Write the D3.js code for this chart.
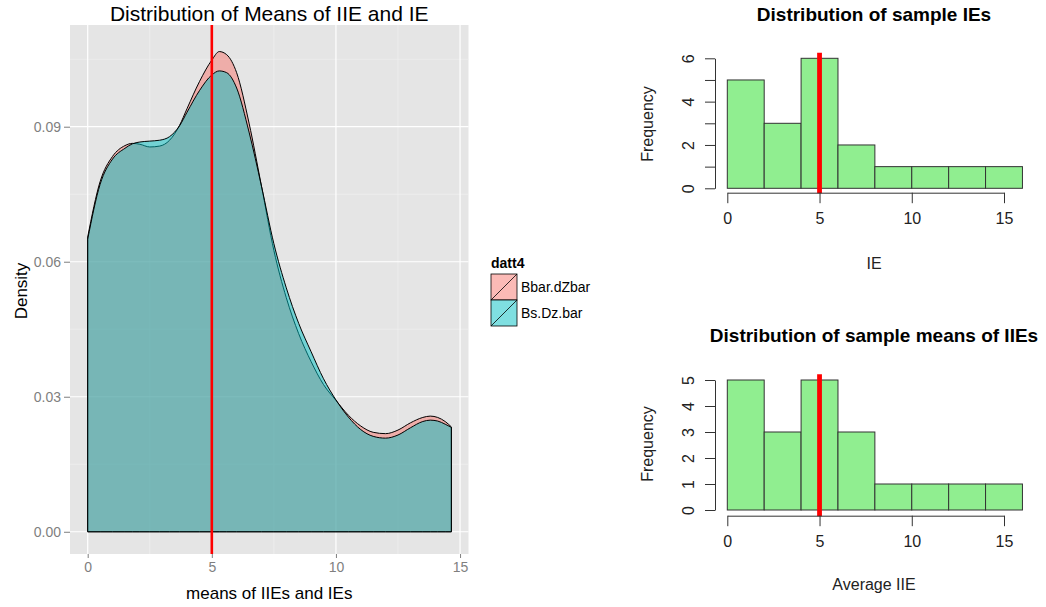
<!DOCTYPE html>
<html>
<head>
<meta charset="utf-8">
<script src="https://cdn.jsdelivr.net/npm/d3@7/dist/d3.min.js"></script>
<style>
  html, body { margin: 0; padding: 0; background: #fff; }
  svg { display: block; font-family: "Liberation Sans", Arial, sans-serif; }
</style>
</head>
<body>
<svg id="chart" width="1046" height="607"></svg>
<script>
// ---- density estimates of the two sets of means ----
const densX = [0, 0.5, 1, 1.5, 1.8, 2.1, 2.5, 2.9, 3.3, 3.7, 4, 4.5, 5, 5.3, 5.6, 6, 6.5, 7, 7.5, 8, 8.5, 9, 9.5, 10, 10.5, 11, 11.5, 12, 12.5, 13, 13.5, 13.8, 14.1, 14.4, 14.65];
const densBbar = [0.0655, 0.0778, 0.0834, 0.0858, 0.0863, 0.0861, 0.0855, 0.0857, 0.0870, 0.0903, 0.0940, 0.1000, 0.1048, 0.1067, 0.1060, 0.1020, 0.0908, 0.0768, 0.0625, 0.0520, 0.0440, 0.0378, 0.0327, 0.0292, 0.0259, 0.0235, 0.0221, 0.0218, 0.0226, 0.0242, 0.0254, 0.0257, 0.0254, 0.0245, 0.0233];
const densBs = [0.0650, 0.0772, 0.0828, 0.0852, 0.0862, 0.0866, 0.0868, 0.0870, 0.0878, 0.0902, 0.0932, 0.0980, 0.1015, 0.1024, 0.1020, 0.0986, 0.0888, 0.0768, 0.0640, 0.0542, 0.0463, 0.0400, 0.0340, 0.0293, 0.0255, 0.0227, 0.0212, 0.0208, 0.0215, 0.0231, 0.0245, 0.0248, 0.0246, 0.0239, 0.0232];
const seriesNames = ["Bbar.dZbar", "Bs.Dz.bar"];
const seriesColors = ["#F8766D", "#00BFC4"];
const densTicksX = [0, 5, 10, 15];
const densTicksY = [0, 0.03, 0.06, 0.09];
const meanLine = 5;

// ---- histograms ----
const histBreaks = [0, 2, 4, 6, 8, 10, 12, 14, 16];
const ieCounts = [5, 3, 6, 2, 1, 1, 1, 1];
const iieCounts = [5, 3, 5, 3, 1, 1, 1, 1];
const histTicksX = [0, 5, 10, 15];

const svg = d3.select("#chart");

// ================= left: overlaid densities =================
const P = { left: 70, right: 468.5, top: 25, bottom: 554 };
const x = d3.scaleLinear().domain([-0.713, 15.34]).range([P.left, P.right]);
const y = d3.scaleLinear().domain([-0.00494, 0.1126]).range([P.bottom, P.top]);

svg.append("rect").attr("x", P.left).attr("y", P.top)
  .attr("width", P.right - P.left).attr("height", P.bottom - P.top)
  .attr("fill", "#E5E5E5");

const grid = svg.append("g");
// minor grid
const minorX = [2.5, 7.5, 12.5];
const minorY = [0.015, 0.045, 0.075, 0.105];
grid.selectAll(".mx").data(minorX).join("line")
  .attr("x1", d => x(d)).attr("x2", d => x(d)).attr("y1", P.top).attr("y2", P.bottom)
  .attr("stroke", "#F2F2F2").attr("stroke-width", 0.6);
grid.selectAll(".my").data(minorY).join("line")
  .attr("y1", d => y(d)).attr("y2", d => y(d)).attr("x1", P.left).attr("x2", P.right)
  .attr("stroke", "#F2F2F2").attr("stroke-width", 0.6);
// major grid
grid.selectAll(".gx").data(densTicksX).join("line")
  .attr("x1", d => x(d)).attr("x2", d => x(d)).attr("y1", P.top).attr("y2", P.bottom)
  .attr("stroke", "#FFFFFF").attr("stroke-width", 1.2);
grid.selectAll(".gy").data(densTicksY).join("line")
  .attr("y1", d => y(d)).attr("y2", d => y(d)).attr("x1", P.left).attr("x2", P.right)
  .attr("stroke", "#FFFFFF").attr("stroke-width", 1.2);

const area = d3.area()
  .x(d => x(d[0])).y0(y(0)).y1(d => y(d[1]))
  .curve(d3.curveMonotoneX);

[densBbar, densBs].forEach((vals, i) => {
  svg.append("path")
    .datum(densX.map((v, k) => [v, vals[k]]))
    .attr("d", area)
    .attr("fill", seriesColors[i]).attr("fill-opacity", 0.5)
    .attr("stroke", "#000").attr("stroke-width", 1)
    .attr("stroke-linejoin", "round");
});

svg.append("line")
  .attr("x1", x(meanLine)).attr("x2", x(meanLine))
  .attr("y1", P.top).attr("y2", P.bottom)
  .attr("stroke", "#FF0000").attr("stroke-width", 2.6);

// axes
const ax = svg.append("g").attr("transform", `translate(0,${P.bottom})`)
  .call(d3.axisBottom(x).tickValues(densTicksX).tickFormat(d3.format("d"))
    .tickSize(4).tickSizeOuter(0).tickPadding(4));
ax.select(".domain").remove();
ax.selectAll("line").attr("stroke", "#7F7F7F");
ax.selectAll("text").attr("fill", "#7F7F7F").style("font-size", "14px");

const ay = svg.append("g").attr("transform", `translate(${P.left},0)`)
  .call(d3.axisLeft(y).tickValues(densTicksY).tickFormat(d3.format(".2f"))
    .tickSize(6).tickSizeOuter(0).tickPadding(3));
ay.select(".domain").remove();
ay.selectAll("line").attr("stroke", "#7F7F7F");
ay.selectAll("text").attr("fill", "#7F7F7F").style("font-size", "14px");

svg.append("text").attr("x", (P.left + P.right) / 2).attr("y", 21)
  .attr("text-anchor", "middle").style("font-size", "21px")
  .text("Distribution of Means of IIE and IE");
svg.append("text").attr("x", (P.left + P.right) / 2).attr("y", 599)
  .attr("text-anchor", "middle").style("font-size", "17px")
  .text("means of IIEs and IEs");
svg.append("text").attr("transform", "translate(27,291) rotate(-90)")
  .attr("text-anchor", "middle").style("font-size", "17px")
  .text("Density");

// legend
const lg = svg.append("g");
lg.append("text").attr("x", 491).attr("y", 268)
  .style("font-size", "14px").style("font-weight", "bold").text("datt4");
seriesNames.forEach((name, i) => {
  const ky = 274 + i * 26;
  lg.append("rect").attr("x", 491).attr("y", ky).attr("width", 26).attr("height", 26)
    .attr("fill", "#fff");
  lg.append("rect").attr("x", 491).attr("y", ky).attr("width", 26).attr("height", 26)
    .attr("fill", seriesColors[i]).attr("fill-opacity", 0.5)
    .attr("stroke", "#000").attr("stroke-width", 0.8);
  lg.append("line").attr("x1", 491).attr("y1", ky + 26).attr("x2", 517).attr("y2", ky)
    .attr("stroke", "#000").attr("stroke-width", 0.8);
  lg.append("text").attr("x", 521).attr("y", ky + 18)
    .style("font-size", "14px").text(name);
});

// ================= right: histograms =================
function histogram(counts, cfg) {
  const hx = d3.scaleLinear().domain([0, 15]).range([727.3, 1004]);
  const hy = d3.scaleLinear().domain([0, cfg.ymax]).range([cfg.y0, cfg.ytop]);
  const g = svg.append("g");
  const bins = counts.map((c, i) => ({ x0: histBreaks[i], x1: histBreaks[i + 1], c }));
  g.selectAll("rect").data(bins).join("rect")
    .attr("x", d => hx(d.x0)).attr("width", d => hx(d.x1) - hx(d.x0))
    .attr("y", d => hy(d.c)).attr("height", d => hy(0) - hy(d.c))
    .attr("fill", "#90EE90").attr("stroke", "#333").attr("stroke-width", 1);

  g.append("line").attr("x1", hx(meanLine)).attr("x2", hx(meanLine))
    .attr("y1", cfg.lineTop).attr("y2", cfg.axisY + 0.6)
    .attr("stroke", "#FF0000").attr("stroke-width", 4.8);

  const gx = g.append("g").attr("transform", `translate(0,${cfg.axisY})`)
    .call(d3.axisBottom(hx).tickValues(histTicksX).tickSize(10.5).tickSizeOuter(0).tickPadding(9));
  gx.select(".domain").attr("stroke", "#333");
  gx.selectAll("line").attr("stroke", "#333");
  gx.selectAll("text").attr("fill", "#222").style("font-size", "16px");

  const gy = g.append("g").attr("transform", "translate(715,0)")
    .call(d3.axisLeft(hy).tickValues(d3.range(0, cfg.ymax + 1))
      .tickFormat(d => (cfg.labelStep === 1 || d % 2 === 0) ? d : "")
      .tickSize(10).tickSizeOuter(0).tickPadding(0));
  gy.select(".domain").attr("stroke", "#333");
  gy.selectAll("line").attr("stroke", "#333");
  gy.selectAll(".tick text")
    .attr("fill", "#222").style("font-size", "16px").attr("text-anchor", "middle")
    .attr("transform", "rotate(-90)").attr("x", 0).attr("y", -27).attr("dy", "0.35em");

  svg.append("text").attr("x", 874).attr("y", cfg.titleY)
    .attr("text-anchor", "middle").style("font-size", "19px").style("font-weight", "bold")
    .text(cfg.title);
  svg.append("text").attr("x", 874).attr("y", cfg.xlabY)
    .attr("text-anchor", "middle").style("font-size", "16px").attr("fill", "#222")
    .text(cfg.xlab);
  svg.append("text").attr("transform", `translate(653,${cfg.ylabY}) rotate(-90)`)
    .attr("text-anchor", "middle").style("font-size", "16px").attr("fill", "#222")
    .text("Frequency");
}

histogram(ieCounts, {
  ymax: 6, y0: 188.3, ytop: 58.3, axisY: 192.7, lineTop: 52.7, labelStep: 2,
  title: "Distribution of sample IEs", titleY: 21, xlab: "IE", xlabY: 269, ylabY: 124
});
histogram(iieCounts, {
  ymax: 5, y0: 510, ytop: 380, axisY: 515.7, lineTop: 374.3, labelStep: 1,
  title: "Distribution of sample means of IIEs", titleY: 342, xlab: "Average IIE", xlabY: 590, ylabY: 444
});
</script>
</body>
</html>
